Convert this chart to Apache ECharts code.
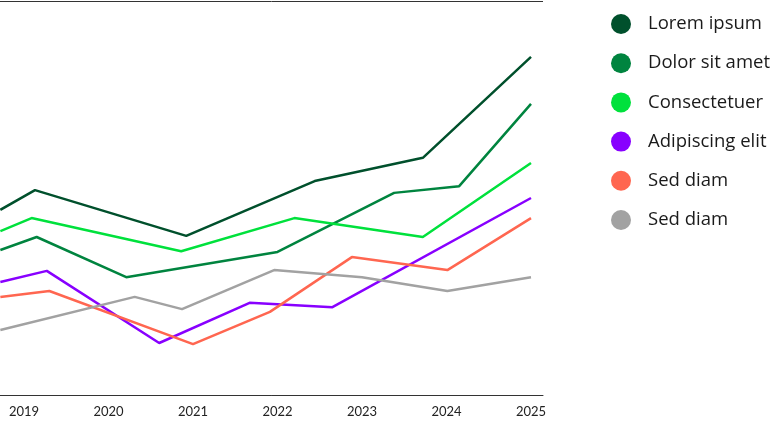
<!doctype html>
<html>
<head>
  <meta charset="utf-8">
  <title>Line chart</title>
  <script src="https://cdn.jsdelivr.net/npm/echarts@6/dist/echarts.min.js"></script>
  <style>
    html, body { margin: 0; padding: 0; background: #fff; }
    #chart { width: 780px; height: 436px; }
  </style>
</head>
<body>
  <div id="chart"></div>
  <script>
    // legend labels (two series share the same label)
    var labels = ['Lorem ipsum', 'Dolor sit amet', 'Consectetuer', 'Adipiscing elit', 'Sed diam', 'Sed diam'];
    var colors = ['#00502c', '#00843f', '#00e13c', '#8800ff', '#ff6650', '#a2a2a2'];
    var yearTicks = [2019, 2020, 2021, 2022, 2023, 2024, 2025];

    // [year, value] pairs
    var loremIpsum = [[2018.72, 47.0], [2019.13, 52.0], [2020.92, 40.4], [2022.44, 54.3], [2023.72, 60.2], [2025.00, 85.8]];
    var dolorSitAmet = [[2018.72, 36.8], [2019.15, 40.1], [2020.21, 29.9], [2022.00, 36.3], [2023.38, 51.3], [2024.15, 53.0], [2025.00, 73.9]];
    var consectetuer = [[2018.72, 41.6], [2019.09, 44.9], [2020.86, 36.5], [2022.20, 44.9], [2023.72, 40.1], [2025.00, 58.9]];
    var adipiscing = [[2018.72, 28.7], [2019.27, 31.5], [2020.60, 13.2], [2021.67, 23.4], [2022.65, 22.3], [2025.00, 50.0]];
    var sedDiamA = [[2018.72, 24.9], [2019.30, 26.4], [2021.00, 12.9], [2021.91, 21.1], [2022.88, 35.0], [2024.01, 31.7], [2025.00, 44.9]];
    var sedDiamB = [[2018.72, 16.5], [2020.31, 24.9], [2020.87, 21.8], [2021.96, 31.7], [2023.00, 29.9], [2024.01, 26.4], [2025.00, 29.9]];

    var allData = [loremIpsum, dolorSitAmet, consectetuer, adipiscing, sedDiamA, sedDiamB];
    // unique keys so the legend keeps both "Sed diam" entries
    var keys = labels.map(function (l, i) { return l + '#' + i; });

    var chart = echarts.init(document.getElementById('chart'));

    var series = allData.map(function (d, i) {
      return {
        name: keys[i],
        type: 'line',
        data: d,
        showSymbol: false,
        clip: true,
        color: colors[i],
        lineStyle: { width: 2.5, color: colors[i] }
      };
    });

    var option = {
      animation: false,
      textStyle: { fontFamily: 'Lato, sans-serif' },
      grid: { left: 0, right: 237, top: 1, bottom: 41 },
      legend: {
        orient: 'vertical',
        left: 606,
        top: 9,
        itemWidth: 20,
        itemHeight: 20,
        itemGap: 19.2,
        icon: 'circle',
        data: keys,
        formatter: function (name) { return labels[keys.indexOf(name)]; },
        textStyle: { fontSize: 18.5, color: '#1a1a1a', padding: [0, 0, 0, 12], fontFamily: '"Open Sans", sans-serif' }
      },
      xAxis: {
        type: 'value',
        min: 2018.716,
        max: 2025.142,
        axisLine: { lineStyle: { color: '#333', width: 1 } },
        axisTick: { show: false },
        splitLine: { show: false },
        axisLabel: {
          customValues: yearTicks,
          formatter: function (v) { return String(v); },
          color: '#222',
          fontSize: 13,
          margin: 10
        }
      },
      yAxis: {
        type: 'value',
        min: 0,
        max: 100,
        interval: 100,
        axisLine: { show: false },
        axisTick: { show: false },
        axisLabel: { show: false },
        splitLine: { show: true, lineStyle: { color: '#333', width: 1 } }
      },
      series: series
    };
    chart.setOption(option);
  </script>
</body>
</html>
